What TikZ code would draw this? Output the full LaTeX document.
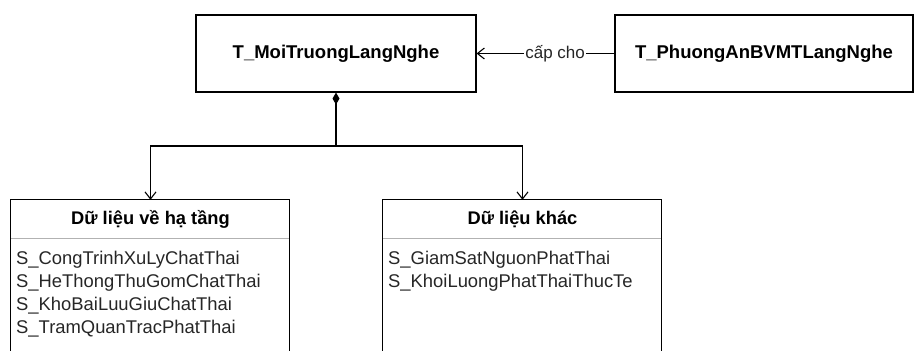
\documentclass[tikz,border=0pt]{standalone}
\usepackage{fontspec}
\setmainfont{Liberation Sans}
\usetikzlibrary{arrows.meta}

\tikzset{
  x=1pt, y=-1pt,
  line/.style={line width=1.1pt, draw=black},
  entity/.style={line, rectangle, inner sep=0pt, font=\bfseries\fontsize{18.5}{22}\selectfont},
  header/.style={rectangle, inner sep=0pt, font=\bfseries\fontsize{18.3}{22}\selectfont},
  item/.style={inner sep=0pt, anchor=base west, text=black!85,
               font=\fontsize{18.4}{22}\selectfont},
  opentip/.style={-{Straight Barb[length=7pt,width=11pt,line width=1.1pt]}},
}

\begin{document}
\begin{tikzpicture}
\useasboundingbox (0,0) rectangle (914,351);
\clip (0,0) rectangle (914,351);

% upper entities
\node[entity, minimum width=280pt, minimum height=77pt] (moi) at (336,53.5) {T\_MoiTruongLangNghe};
\node[entity, minimum width=298pt, minimum height=77pt] (pa) at (764,53.5) {T\_PhuongAnBVMTLangNghe};

% lower classes: the frames run past the bottom edge
\node[header, minimum width=279pt, minimum height=38pt] (hatang) at (150.5,219) {Dữ liệu về hạ tầng};
\node[header, minimum width=279pt, minimum height=38pt] (khac) at (522.5,219) {Dữ liệu khác};
\draw[black!30, line width=1.2pt] (hatang.south west) -- (hatang.south east);
\draw[black!30, line width=1.2pt] (khac.south west) -- (khac.south east);
\draw[line] (hatang.north west) rectangle ++(279,200);
\draw[line] (khac.north west) rectangle ++(279,200);

% attributes
\node[item] (a1) at (16,264.5) {S\_CongTrinhXuLyChatThai};
\node[item] (a2) at (16,287.5) {S\_HeThongThuGomChatThai};
\node[item] (a3) at (16,310.5) {S\_KhoBaiLuuGiuChatThai};
\node[item] (a4) at (16,333.5) {S\_TramQuanTracPhatThai};
\node[item] (b1) at (388,264.5) {S\_GiamSatNguonPhatThai};
\node[item] (b2) at (388,287.5) {S\_KhoiLuongPhatThaiThucTe};

% association
\draw[line, opentip] (pa.west) -- node[pos=0.43, fill=white, inner sep=1pt, text=black!85,
  font=\fontsize{17}{20}\selectfont] (lbl) {cấp cho} (moi.east);

% composition
\coordinate (fork) at (336,146);
\draw[line, {Diamond[length=12pt,width=7pt]}-] (moi.south) -- (fork);
\draw[line, opentip] (fork) -| (hatang.north);
\draw[line, opentip] (fork) -| (khac.north);
\end{tikzpicture}
\end{document}
